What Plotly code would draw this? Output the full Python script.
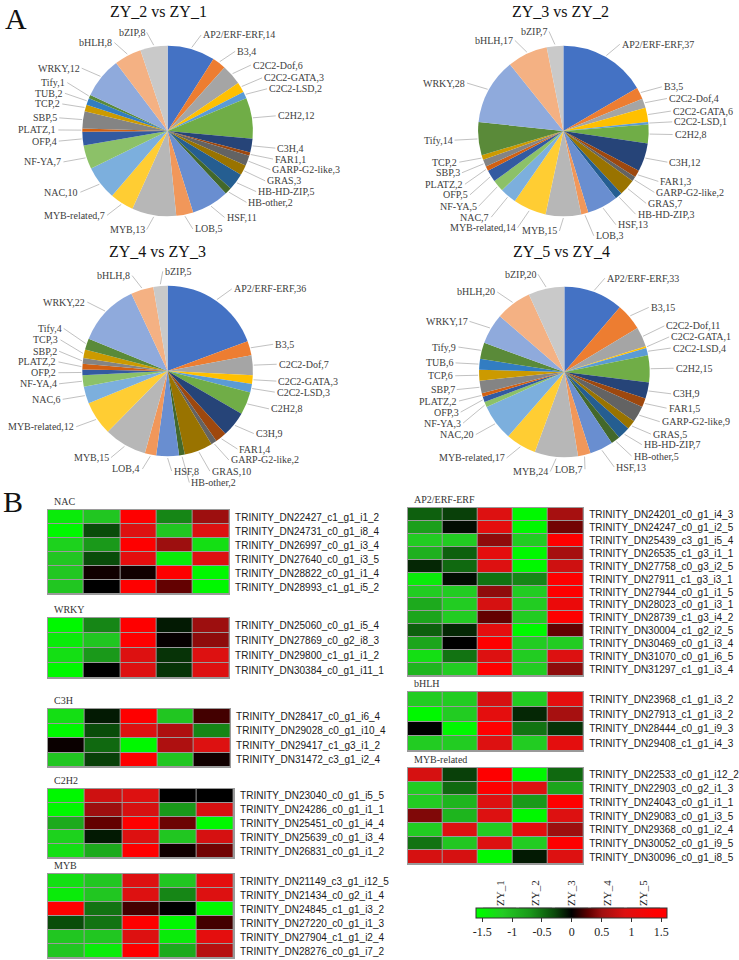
import math
import plotly.graph_objects as go

W, H = 739, 960
SERIF = "Liberation Serif, Times New Roman, serif"
SANS = "Liberation Sans, Arial, sans-serif"

# ---------------- Pie data ----------------
families = ["AP2/ERF-ERF", "B3", "C2C2-Dof", "C2C2-GATA", "C2C2-LSD", "C2H2", "C3H", "FAR1",
            "GARP-G2-like", "GRAS", "HB-HD-ZIP", "HB-other", "HSF", "LOB", "MYB", "MYB-related",
            "NAC", "NF-YA", "OFP", "PLATZ", "SBP", "TCP", "TUB", "Tify", "WRKY", "bHLH", "bZIP"]
family_colors = ["#4472C4", "#ED7D31", "#A5A5A5", "#FFC000", "#5B9BD5", "#70AD47", "#264478", "#9E480E",
                 "#636363", "#997300", "#255E91", "#43682B", "#698ED0", "#F1975A", "#B7B7B7", "#FFCD33",
                 "#7CAFDD", "#8CC168", "#335AA1", "#D26012", "#848484", "#CC9A00", "#327DC2", "#5A8A39",
                 "#8FAADC", "#F4B183", "#C9C9C9"]
zy2_vs_zy1 = [14, 4, 6, 3, 2, 12, 4, 1, 3, 3, 5, 2, 11, 5, 13, 7, 10, 7, 4, 1, 5, 2, 2, 1, 12, 8, 8]
zy3_vs_zy2 = [37, 5, 4, 6, 1, 8, 12, 3, 2, 7, 3, 0, 13, 3, 15, 14, 7, 5, 5, 2, 3, 2, 0, 14, 28, 17, 7]
zy4_vs_zy3 = [36, 5, 7, 3, 3, 8, 9, 4, 2, 10, 0, 2, 8, 4, 15, 12, 6, 4, 2, 2, 2, 3, 0, 4, 22, 8, 5]
zy5_vs_zy4 = [33, 15, 11, 1, 4, 15, 9, 5, 9, 5, 7, 5, 13, 7, 24, 17, 20, 3, 3, 2, 7, 6, 6, 9, 17, 20, 20]
pie_titles = ["ZY_2 vs ZY_1", "ZY_3 vs ZY_2", "ZY_4 vs ZY_3", "ZY_5 vs ZY_4"]

# ---------------- Heatmap data ----------------
samples = ["ZY_1", "ZY_2", "ZY_3", "ZY_4", "ZY_5"]

nac_genes = ["TRINITY_DN22427_c1_g1_i1_2", "TRINITY_DN24731_c0_g1_i8_4", "TRINITY_DN26997_c0_g1_i3_4",
             "TRINITY_DN27640_c0_g1_i3_5", "TRINITY_DN28822_c0_g1_i1_4", "TRINITY_DN28993_c1_g1_i5_2"]
nac_values = [[-1.4, -1.1, 1.4, -0.6, 0.5],
              [-1.5, -0.3, 0.9, -1.1, 0.9],
              [-1.2, -0.7, 1.4, 0.5, -1.3],
              [-1.1, -0.3, 1.0, -1.4, 0.9],
              [-1.1, 0.05, 0.05, 1.4, -1.5],
              [-1.1, 0.0, 1.4, 0.3, -1.5]]

wrky_genes = ["TRINITY_DN25060_c0_g1_i5_4", "TRINITY_DN27869_c0_g2_i8_3",
              "TRINITY_DN29800_c1_g1_i1_2", "TRINITY_DN30384_c0_g1_i11_1"]
wrky_values = [[-1.5, -0.6, 1.4, -0.1, 0.5],
               [-1.4, -1.1, 1.4, 0.02, 0.45],
               [-1.3, -0.7, 0.9, -0.2, 0.9],
               [-1.5, 0.0, 0.9, -0.2, 0.9]]

c3h_genes = ["TRINITY_DN28417_c0_g1_i6_4", "TRINITY_DN29028_c0_g1_i10_4",
             "TRINITY_DN29417_c1_g3_i1_2", "TRINITY_DN31472_c3_g1_i2_4"]
c3h_values = [[-1.3, -0.1, 1.4, -1.1, 0.2],
              [-1.5, -0.3, 0.9, 0.6, -0.6],
              [0.03, -0.45, -1.5, 0.6, 0.9],
              [-1.1, -0.25, 1.4, -1.1, 0.05]]

c2h2_genes = ["TRINITY_DN23040_c0_g1_i5_5", "TRINITY_DN24286_c0_g1_i1_1", "TRINITY_DN25451_c0_g1_i4_4",
              "TRINITY_DN25639_c0_g1_i3_4", "TRINITY_DN26831_c0_g1_i1_2"]
c2h2_values = [[-1.5, 0.8, 0.9, 0.0, 0.0],
               [-1.5, 0.5, 0.85, -0.7, 0.85],
               [-0.85, 0.3, 1.4, 0.33, -1.5],
               [-1.2, -0.1, 0.9, -1.1, 0.85],
               [-1.3, -0.85, 1.4, 0.05, 0.35]]

myb_genes = ["TRINITY_DN21149_c3_g1_i12_5", "TRINITY_DN21434_c0_g2_i1_4", "TRINITY_DN24845_c1_g1_i3_2",
             "TRINITY_DN27220_c0_g1_i1_3", "TRINITY_DN27904_c1_g1_i2_4", "TRINITY_DN28276_c0_g1_i7_2"]
myb_values = [[-1.3, -1.1, 0.9, -1.1, 1.0],
              [-1.4, -1.1, 0.9, -0.6, 0.9],
              [1.4, -0.5, 0.2, 0.0, -1.5],
              [-0.3, -0.5, 1.4, -1.5, 0.2],
              [-1.1, -1.1, 0.9, -1.4, 1.0],
              [-1.1, -1.4, 1.4, -0.85, 0.65]]

ap2_genes = ["TRINITY_DN24201_c0_g1_i4_3", "TRINITY_DN24247_c0_g1_i2_5", "TRINITY_DN25439_c3_g1_i5_4",
             "TRINITY_DN26535_c1_g3_i1_1", "TRINITY_DN27758_c0_g3_i2_5", "TRINITY_DN27911_c1_g3_i3_1",
             "TRINITY_DN27944_c0_g1_i1_5", "TRINITY_DN28023_c0_g1_i3_1", "TRINITY_DN28739_c1_g3_i4_2",
             "TRINITY_DN30004_c1_g2_i2_5", "TRINITY_DN30469_c0_g1_i3_4", "TRINITY_DN31070_c0_g1_i6_5",
             "TRINITY_DN31297_c1_g1_i3_4"]
ap2_values = [[-0.4, -0.25, 0.9, -1.5, 0.55],
              [-0.75, -0.05, 1.0, -1.5, 0.35],
              [-1.15, -1.15, 0.45, -1.15, 1.4],
              [-0.9, -0.4, 1.0, -1.5, 0.55],
              [-0.15, -0.45, 0.9, -1.5, 0.8],
              [-1.4, -0.05, -0.5, -0.6, 1.4],
              [-1.15, -1.15, 0.45, -1.15, 1.4],
              [-0.85, -1.15, 0.85, -1.15, 1.1],
              [-0.8, -1.15, 0.3, -1.15, 1.4],
              [-0.4, -0.15, 1.0, -1.5, 0.3],
              [-0.8, 0.0, 1.4, -1.15, -1.15],
              [-1.3, -0.5, 0.9, -1.15, 0.9],
              [-0.95, -1.15, 1.4, -1.15, 0.45]]

bhlh_genes = ["TRINITY_DN23968_c1_g1_i3_2", "TRINITY_DN27913_c1_g1_i3_2",
              "TRINITY_DN28444_c0_g1_i9_3", "TRINITY_DN29408_c1_g1_i4_3"]
bhlh_values = [[-1.15, -1.15, 0.85, -1.15, 1.0],
               [-1.5, -1.15, 1.0, -0.15, 0.55],
               [0.0, -1.5, 1.4, -0.5, -0.2],
               [-1.15, -1.15, 0.9, -1.15, 1.0]]

mybr_genes = ["TRINITY_DN22533_c0_g1_i12_2", "TRINITY_DN22903_c0_g2_i1_3", "TRINITY_DN24043_c0_g1_i1_1",
              "TRINITY_DN29083_c0_g1_i3_5", "TRINITY_DN29368_c0_g1_i2_4", "TRINITY_DN30052_c0_g1_i9_5",
              "TRINITY_DN30096_c0_g1_i8_5"]
mybr_values = [[0.85, -0.25, 1.4, -1.5, -0.45],
               [-1.15, -0.45, 1.4, 0.9, -0.8],
               [-1.15, -0.95, 0.9, -0.7, 1.4],
               [0.4, -0.95, 0.9, -1.5, 0.9],
               [-1.15, 0.9, -1.15, 1.0, 0.5],
               [-0.5, -1.1, 0.9, -1.15, 1.4],
               [0.85, 0.85, -1.5, -0.1, 0.9]]

colorbar_ticks = [-1.5, -1, -0.5, 0, 0.5, 1, 1.5]

# ---------------- helpers (layout only) ----------------
def dx(a, b):
    return [a / W, b / W]

def dy(top, bottom):
    return [1 - bottom / H, 1 - top / H]

LABEL_SIZE = 10
CHAR_W = 0.52 * LABEL_SIZE
BOX_H = 10.5

def pie_label_annotations(vals, cx, cy, r):
    """Outside labels with leader lines, positioned from each slice's mid angle."""
    total = float(sum(vals))
    cum = 0.0
    items = []
    for i, v in enumerate(vals):
        if v <= 0:
            continue
        mid = (cum + v / 2.0) / total * 2 * math.pi
        cum += v
        s, c = math.sin(mid), math.cos(mid)
        side = 1 if s > 1e-6 else -1
        text = f"{families[i]},{v}"
        items.append(dict(text=text, w=len(text) * CHAR_W, s=s, c=c, side=side,
                          lx=cx + (r + 20) * s + 4 * side, ly=cy - (r + 14) * c,
                          ex=cx + (r + 1) * s, ey=cy - (r + 1) * c))

    def box(it):
        if it["side"] > 0:
            return (it["lx"], it["lx"] + it["w"], it["ly"] - BOX_H / 2, it["ly"] + BOX_H / 2)
        return (it["lx"] - it["w"], it["lx"], it["ly"] - BOX_H / 2, it["ly"] + BOX_H / 2)

    def overlaps(a, b):
        ax0, ax1, ay0, ay1 = box(a)
        bx0, bx1, by0, by1 = box(b)
        return ax0 < bx1 and bx0 < ax1 and ay0 < by1 and by0 < ay1

    placed = []
    for it in sorted(items, key=lambda t: abs(t["c"])):
        if any(overlaps(it, p) for p in placed) and abs(it["s"]) < 0.25:
            # near the top/bottom: try the other side of the vertical
            old = (it["side"], it["lx"])
            it["side"] = -it["side"]
            it["lx"] = cx + (r + 20) * it["s"] + 4 * it["side"]
            if any(overlaps(it, p) for p in placed):
                it["side"], it["lx"] = old
        step = -1 if it["c"] > 0 else 1
        guard = 0
        while any(overlaps(it, p) for p in placed) and guard < 200:
            it["ly"] += step
            guard += 1
        placed.append(it)

    anns = []
    for it in items:
        anns.append(dict(
            text=it["text"], xref="paper", yref="paper",
            x=it["ex"] / W, y=1 - it["ey"] / H,
            ax=it["lx"] - it["ex"], ay=it["ly"] - it["ey"],
            xanchor="left" if it["side"] > 0 else "right", yanchor="middle",
            showarrow=True, arrowhead=0, arrowwidth=0.7, arrowcolor="#a6a6a6",
            standoff=0, startstandoff=0,
            font=dict(family=SERIF, size=LABEL_SIZE, color="#404040"),
        ))
    return anns

fig = go.Figure()
annotations = []

# ---------------- Pies ----------------
pie_series = [zy2_vs_zy1, zy3_vs_zy2, zy4_vs_zy3, zy5_vs_zy4]
pie_centers = [(169, 131), (568, 131), (169, 371), (569, 372)]
pie_r = 86
for vals, (cx, cy) in zip(pie_series, pie_centers):
    keep = [i for i, v in enumerate(vals) if v > 0]
    fig.add_trace(go.Pie(
        labels=[families[i] for i in keep],
        values=[vals[i] for i in keep],
        marker=dict(colors=[family_colors[i] for i in keep], line=dict(width=0)),
        sort=False, direction="clockwise", rotation=0, textinfo="none",
        domain=dict(x=dx(cx - pie_r, cx + pie_r), y=dy(cy - pie_r, cy + pie_r)),
        showlegend=False, hoverinfo="label+value",
    ))
    annotations += pie_label_annotations(vals, cx, cy, pie_r)

# ---------------- Heatmaps ----------------
colorscale = [[0.0, "#00ff00"], [0.03, "#00f800"], [0.14, "#22cc22"], [0.28, "#1a9a1a"],
              [0.41, "#0a4a0a"], [0.5, "#000000"], [0.59, "#600000"], [0.66, "#a01010"],
              [0.78, "#dd1111"], [0.94, "#ff0000"], [1.0, "#ff0000"]]

groups = [
    ("NAC", nac_genes, nac_values, (48, 231), (510, 594)),
    ("WRKY", wrky_genes, wrky_values, (48, 231), (618, 678)),
    ("C3H", c3h_genes, c3h_values, (48, 232), (709, 767)),
    ("C2H2", c2h2_genes, c2h2_values, (48, 236), (789, 858)),
    ("MYB", myb_genes, myb_values, (48, 236), (874, 958)),
    ("AP2/ERF-ERF", ap2_genes, ap2_values, (411, 588), (508, 676)),
    ("bHLH", bhlh_genes, bhlh_values, (411, 588), (692, 751)),
    ("MYB-related", mybr_genes, mybr_values, (411, 588), (768, 864)),
]

shapes = []
layout_axes = {}
for k, (name, genes, vals, (x0, x1), (y0, y1)) in enumerate(groups, start=1):
    xa = "x" if k == 1 else f"x{k}"
    ya = "y" if k == 1 else f"y{k}"
    fig.add_trace(go.Heatmap(
        z=vals, x=samples, y=genes, coloraxis="coloraxis",
        xgap=1, ygap=1, xaxis=xa, yaxis=ya, hoverongaps=False,
    ))
    xkey = "xaxis" if k == 1 else f"xaxis{k}"
    ykey = "yaxis" if k == 1 else f"yaxis{k}"
    layout_axes[xkey] = dict(domain=dx(x0, x1), anchor=ya, showticklabels=False, ticks="",
                             showgrid=False, zeroline=False, showline=True, mirror=True,
                             linecolor="#9a9a9a", linewidth=1, fixedrange=True)
    layout_axes[ykey] = dict(domain=dy(y0, y1), anchor=xa, side="right", autorange="reversed",
                             tickmode="array", tickvals=genes, ticktext=genes, ticks="",
                             ticklabelstandoff=3,
                             tickfont=dict(family=SANS, size=10, color="#1a1a1a"),
                             showgrid=False, zeroline=False, showline=True, mirror=True,
                             linecolor="#9a9a9a", linewidth=1, fixedrange=True)
    shapes.append(dict(type="rect", xref=f"{xa} domain", yref=f"{ya} domain",
                       x0=0, x1=1, y0=0, y1=1, fillcolor="#9a9a9a", line=dict(width=0), layer="below"))
    annotations.append(dict(text=name, x=(x0 + 4) / W, y=1 - (y0 - 9) / H, xref="paper", yref="paper",
                            xanchor="left", yanchor="middle", showarrow=False,
                            font=dict(family=SERIF, size=10, color="#333333")))

# header boxes with sample names
k = len(groups) + 1
fig.add_trace(go.Heatmap(
    z=[[0] * len(samples)], x=samples, y=["hdr"], colorscale=[[0, "#d3d3d3"], [1, "#d3d3d3"]],
    showscale=False, xgap=3, xaxis=f"x{k}", yaxis=f"y{k}", hoverinfo="skip",
))
layout_axes[f"xaxis{k}"] = dict(domain=dx(486, 667), anchor=f"y{k}", side="top", tickangle=-90,
                                ticks="", showgrid=False, zeroline=False, showline=False,
                                tickfont=dict(family=SERIF, size=11, color="#222222"), fixedrange=True)
layout_axes[f"yaxis{k}"] = dict(domain=dy(907, 918), anchor=f"x{k}", showticklabels=False,
                                ticks="", showgrid=False, zeroline=False, fixedrange=True)

# pie titles and panel letters
title_pos = [(160, 11), (565, 11), (159, 252), (566, 252)]
for t, (tx, ty) in zip(pie_titles, title_pos):
    annotations.append(dict(text=t, x=tx / W, y=1 - ty / H, xref="paper", yref="paper",
                            xanchor="center", yanchor="middle", showarrow=False,
                            font=dict(family=SERIF, size=16, color="#111111")))
annotations.append(dict(text="A", x=16 / W, y=1.0, xref="paper", yref="paper",
                        xanchor="center", yanchor="top", showarrow=False,
                        font=dict(family=SERIF, size=30, color="#111111")))
annotations.append(dict(text="B", x=13 / W, y=1 - 501 / H, xref="paper", yref="paper",
                        xanchor="center", yanchor="middle", showarrow=False,
                        font=dict(family=SERIF, size=30, color="#111111")))

fig.update_layout(
    width=W, height=H, margin=dict(l=0, r=0, t=0, b=0),
    paper_bgcolor="white", plot_bgcolor="white",
    coloraxis=dict(
        colorscale=colorscale, cmin=-1.6, cmax=1.6,
        colorbar=dict(orientation="h", x=576.5 / W, xanchor="center", y=1 - 908 / H, yanchor="top",
                      len=191, lenmode="pixels", thickness=10, thicknessmode="pixels",
                      outlinewidth=1, outlinecolor="#333333", xpad=0, ypad=0,
                      tickvals=colorbar_ticks, ticktext=[str(v) for v in colorbar_ticks],
                      ticks="outside", ticklen=4, tickcolor="#333333",
                      tickfont=dict(family=SERIF, size=12, color="#222222")),
    ),
    annotations=annotations, shapes=shapes,
    **layout_axes,
)

fig.write_html("out.html")
